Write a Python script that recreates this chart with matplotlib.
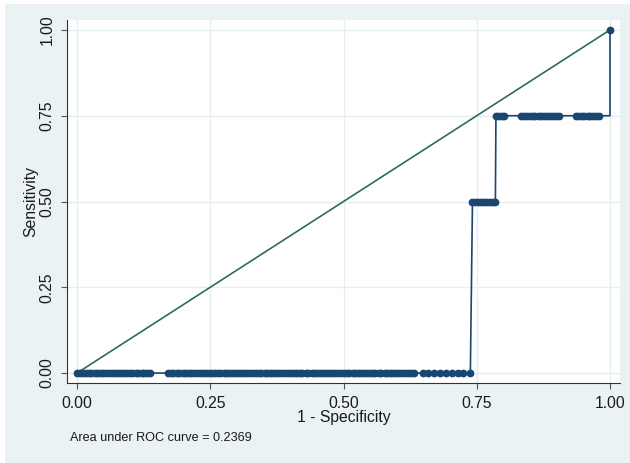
import matplotlib
matplotlib.use("Agg")
import matplotlib.pyplot as plt
from matplotlib.patches import Rectangle

plt.rcParams['font.family'] = ['Liberation Sans', 'DejaVu Sans']

# ROC points: 1 - specificity (x) and sensitivity (y)
fpr_zero = [0.000, 0.005, 0.011, 0.016, 0.022, 0.027, 0.033, 0.038, 0.044, 0.049,
            0.055, 0.060, 0.066, 0.071, 0.077, 0.082, 0.088, 0.093, 0.099, 0.104,
            0.110, 0.115, 0.121, 0.126, 0.132, 0.137,
            0.171, 0.176, 0.181, 0.187, 0.192, 0.198, 0.203, 0.209, 0.214, 0.220,
            0.225, 0.231, 0.236, 0.242, 0.247, 0.253, 0.258, 0.264, 0.269, 0.275,
            0.280, 0.286, 0.291, 0.297, 0.302, 0.308, 0.313, 0.319, 0.324, 0.330,
            0.335, 0.341, 0.346, 0.352, 0.357, 0.363, 0.368, 0.374, 0.379, 0.385,
            0.390, 0.396, 0.401, 0.407, 0.412, 0.418, 0.423, 0.429, 0.434, 0.440,
            0.445, 0.451, 0.456, 0.462, 0.467, 0.473, 0.478, 0.484, 0.489, 0.495,
            0.500, 0.506, 0.511, 0.517, 0.522, 0.527, 0.533, 0.538, 0.544, 0.549,
            0.555, 0.560, 0.566, 0.571, 0.577, 0.582, 0.588, 0.593, 0.599, 0.604,
            0.610, 0.615, 0.621, 0.626, 0.632,
            0.649, 0.659, 0.670, 0.681, 0.692, 0.703, 0.714, 0.725, 0.738]
fpr_half = [0.742, 0.747, 0.752, 0.758, 0.763, 0.769, 0.774, 0.780, 0.785]
fpr_three_q = [0.786, 0.791, 0.797, 0.802,
               0.833, 0.838, 0.844, 0.849, 0.855, 0.860, 0.866, 0.871, 0.877,
               0.882, 0.888, 0.893, 0.899, 0.904,
               0.936, 0.941, 0.947, 0.952, 0.958, 0.963, 0.969, 0.974, 0.979,
               1.000]
fpr_one = [1.000]

fpr = fpr_zero + fpr_half + fpr_three_q + fpr_one
sens = ([0.0] * len(fpr_zero) + [0.5] * len(fpr_half)
        + [0.75] * len(fpr_three_q) + [1.0] * len(fpr_one))

auc_text = "Area under ROC curve = 0.2369"
ticks = [0.0, 0.25, 0.5, 0.75, 1.0]
tick_labels = ["0.00", "0.25", "0.50", "0.75", "1.00"]

bg = '#eaf2f3'
grid_c = '#e6eef1'
navy = '#1a476f'
ref_c = '#2f6b5c'

fig = plt.figure(figsize=(6.3, 4.63), dpi=100, facecolor='white')
fig.patches.append(Rectangle((5 / 630, 0), 1, 1 - 4 / 463, transform=fig.transFigure,
                             facecolor=bg, edgecolor='none', zorder=-10))

ax = fig.add_axes([67 / 630, 1 - 383 / 463, 553 / 630, 363 / 463])
ax.set_facecolor('white')
ax.set_xlim(-0.0188, 1.0188)
ax.set_ylim(-0.029, 1.029)

for t in ticks:
    ax.axhline(t, color=grid_c, lw=1.0, zorder=0)
    ax.axvline(t, color=grid_c, lw=1.0, zorder=0)

# reference diagonal
ax.plot([0, 1], [0, 1], color=ref_c, lw=1.2, zorder=2)

# ROC curve (no marker on the (1, 0.75) corner)
corner = len(fpr) - 2
marks = [i for i in range(len(fpr)) if i != corner]
ax.plot(fpr, sens, color=navy, lw=1.2, marker='o', markersize=5.6,
        markeredgewidth=0, markevery=marks, zorder=3)

for s in ['top', 'right']:
    ax.spines[s].set_visible(False)
for s in ['left', 'bottom']:
    ax.spines[s].set_color('#333333')
    ax.spines[s].set_linewidth(0.8)

ax.set_xticks(ticks)
ax.set_xticklabels(tick_labels)
ax.set_yticks(ticks)
ax.set_yticklabels(tick_labels)
ax.tick_params(axis='both', direction='out', length=4, width=0.8, color='#555555',
               labelsize=11.3, labelcolor='#1a1a1a')
ax.tick_params(axis='x', pad=5)
ax.tick_params(axis='y', pad=5, labelrotation=90)
for lab in ax.get_yticklabels():
    lab.set_va('center')

ax.set_xlabel("1 - Specificity", fontsize=11.3, color='#1a1a1a')
ax.xaxis.set_label_coords(0.5, -0.075)
ax.set_ylabel("Sensitivity", fontsize=11.3, color='#1a1a1a')
ax.yaxis.set_label_coords(-0.052, 0.5)

fig.text(70 / 630, 1 - 438 / 463, auc_text, fontsize=9.1, color='#1a1a1a',
         ha='left', va='center')

fig.savefig("out.png", dpi=100, facecolor=fig.get_facecolor())
